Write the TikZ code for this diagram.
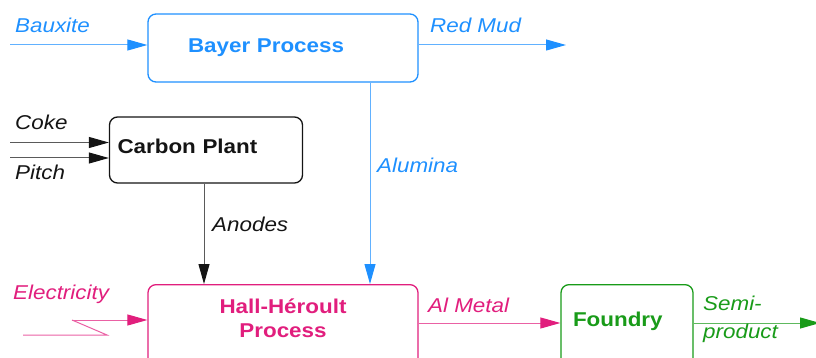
\documentclass[tikz,border=0pt]{standalone}
\usepackage{fontspec}
\setmainfont{Liberation Sans}[FakeStretch=1.12]
\usetikzlibrary{arrows.meta}
\definecolor{bayerblue}{RGB}{30,144,255}
\definecolor{hallpink}{RGB}{225,30,125}
\definecolor{foundrygreen}{RGB}{25,155,25}
\definecolor{carbonblack}{RGB}{20,20,20}
\tikzset{
  plant/.style={draw, rounded corners=8pt, line width=1.3pt, align=left,
    font=\fontsize{20}{24}\selectfont\bfseries},
  feed/.style={-{Triangle[length=20pt,width=11pt,color=#1]}, draw=#1!70, line width=1pt},
  stream/.style={font=\fontsize{20}{28}\selectfont\itshape, inner sep=0pt,
    anchor=base west, align=left},
}

\begin{document}
\begin{tikzpicture}[x=1pt,y=-1pt]
\useasboundingbox (0,0) rectangle (816,358);
\clip (0,0) rectangle (816,358);

\node[plant, bayerblue, text width=190pt, inner xsep=40pt, minimum height=68pt] (bayer) at (283,48) {Bayer Process};
\node[plant, carbonblack, text width=177pt, inner xsep=8pt, minimum height=66pt,
  text height=15pt, text depth=8pt] (carbon) at (206,150) {Carbon Plant};
\node[plant, hallpink, align=center, anchor=north, text width=250pt, inner xsep=10pt, inner ysep=14pt,
  text height=15pt, text depth=50pt] (hall) at (283,284) {Hall-Héroult\\Process};
\node[plant, foundrygreen, anchor=north, text width=108pt, inner xsep=12pt, inner ysep=27pt,
  text height=15pt, text depth=20pt] (foundry) at (627,284) {Foundry};

\coordinate (bauxite) at (10,45);
\coordinate (redmud) at (566,45);
\coordinate (coke) at (10,142.5);
\coordinate (pitch) at (10,158);
\coordinate (elecA) at (23,335);
\coordinate (elecB) at (107,335);
\coordinate (elecC) at (72,320);
\coordinate (almetal) at (500,323);
\coordinate (semiend) at (820,323);

\draw[feed=bayerblue] (bauxite) -- (bauxite -| bayer.west);
\draw[feed=bayerblue] (bayer.east |- redmud) -- (redmud);
\draw[feed=bayerblue] ([xshift=87pt]bayer.south) -- ([xshift=87pt]bayer.south |- hall.north);
\draw[feed=carbonblack] (coke) -- (coke -| carbon.west);
\draw[feed=carbonblack] (pitch) -- (pitch -| carbon.west);
\draw[feed=carbonblack] ([xshift=-2pt]carbon.south) -- ([xshift=-2pt]carbon.south |- hall.north);
\draw[hallpink!70, line width=1pt] (elecA) -- (elecB) -- (elecC);
\draw[feed=hallpink] (elecC) -- (elecC -| hall.west);
\draw[feed=hallpink] (hall.east |- almetal) -- (almetal -| foundry.west);
\draw[feed=foundrygreen] (foundry.east |- semiend) -- (semiend);

\node[stream, bayerblue] (bauxitelabel) at (15,33) {Bauxite};
\node[stream, bayerblue] (redmudlabel) at (430,33) {Red Mud};
\node[stream, carbonblack] (cokelabel) at (15,130) {Coke};
\node[stream, carbonblack] (pitchlabel) at (15,180) {Pitch};
\node[stream, bayerblue] (aluminalabel) at (377,173) {Alumina};
\node[stream, carbonblack] (anodeslabel) at (212,231) {Anodes};
\node[stream, hallpink] (eleclabel) at (13,299) {Electricity};
\node[stream, hallpink] (almetallabel) at (428,312) {Al Metal};
\node[stream, foundrygreen, text width=100pt] (semilabel) at (703,310) {Semi-\\product};
\end{tikzpicture}
\end{document}
